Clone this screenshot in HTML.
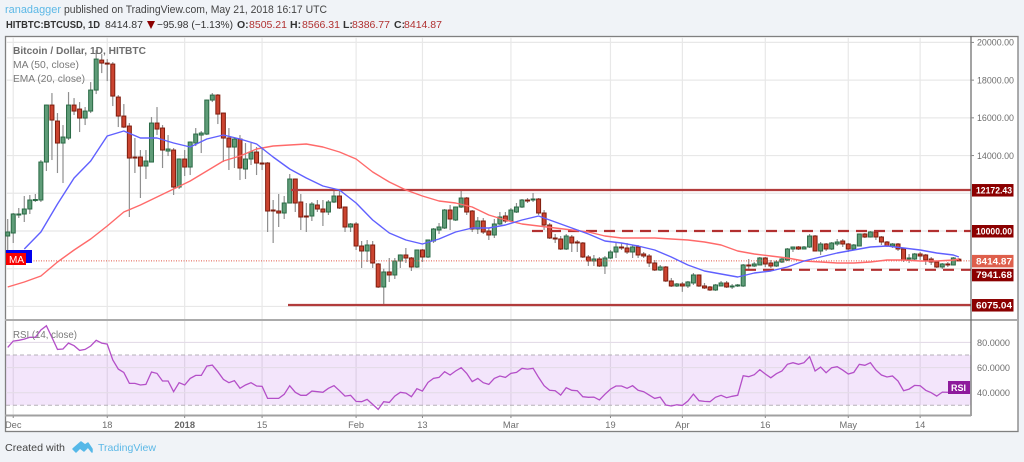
<!DOCTYPE html>
<html lang="en">
<head>
<meta charset="utf-8">
<title>BTCUSD chart</title>
<style>
html,body{margin:0;padding:0;background:#f0f3f7;}
svg{display:block;font-family:"Liberation Sans",sans-serif;filter:blur(0.3px);}
</style>
</head>
<body>
<svg id="chart" xmlns="http://www.w3.org/2000/svg" width="1024" height="462" viewBox="0 0 1024 462">
  <rect x="0" y="0" width="1024" height="462" fill="#f0f3f7"/>
  <text x="5" y="13" font-size="11" fill="#5cb8e6" textLength="56" lengthAdjust="spacingAndGlyphs">ranadagger</text>
  <text x="64" y="13" font-size="11" fill="#444" textLength="263" lengthAdjust="spacingAndGlyphs">published on TradingView.com, May 21, 2018 16:17 UTC</text>
  <text x="6" y="28" font-size="10.5" font-weight="bold" fill="#333" textLength="94" lengthAdjust="spacingAndGlyphs">HITBTC:BTCUSD, 1D</text>
  <text x="105" y="28" font-size="10.5" fill="#333" textLength="38" lengthAdjust="spacingAndGlyphs">8414.87</text>
  <polygon points="147,21 155,21 151,29" fill="#8b0000"/>
  <text x="157" y="28" font-size="10.5" fill="#333" textLength="76" lengthAdjust="spacingAndGlyphs">−95.98 (−1.13%)</text>
  <text x="237" y="28" font-size="10.5" font-weight="bold" fill="#333">O:</text>
  <text x="249" y="28" font-size="10.5" fill="#b03030" textLength="38" lengthAdjust="spacingAndGlyphs">8505.21</text>
  <text x="290" y="28" font-size="10.5" font-weight="bold" fill="#333">H:</text>
  <text x="302" y="28" font-size="10.5" fill="#b03030" textLength="38" lengthAdjust="spacingAndGlyphs">8566.31</text>
  <text x="343" y="28" font-size="10.5" font-weight="bold" fill="#333">L:</text>
  <text x="352" y="28" font-size="10.5" fill="#b03030" textLength="38" lengthAdjust="spacingAndGlyphs">8386.77</text>
  <text x="394" y="28" font-size="10.5" font-weight="bold" fill="#333">C:</text>
  <text x="404" y="28" font-size="10.5" fill="#b03030" textLength="38" lengthAdjust="spacingAndGlyphs">8414.87</text>

  <rect x="5.5" y="36.5" width="1012.5" height="395" fill="#ffffff" stroke="#808080" stroke-width="1.3"/>
  <g id="grid"></g>
  <g id="rsi-pane"></g>
  <g id="candles"></g>
  <g id="levels"></g>
  <g id="mas"></g>
  <rect x="5" y="319" width="1013" height="2" fill="#ababab"/>
  <line x1="971" y1="36" x2="971" y2="416" stroke="#666" stroke-width="1.2"/>
  <line x1="5" y1="415.5" x2="971" y2="415.5" stroke="#a0a0a0" stroke-width="2"/>
  <g id="axes"></g>

  <rect x="6" y="250" width="26" height="13" fill="#0000ee"/>
  <rect x="6" y="253" width="20" height="12" fill="#f70000"/>
  <text x="9" y="263" font-size="10" fill="#fff">MA</text>

  <text x="13" y="54" font-size="10" font-weight="bold" fill="#6e6e6e" textLength="133" lengthAdjust="spacingAndGlyphs">Bitcoin / Dollar, 1D, HITBTC</text>
  <text x="13" y="68" font-size="10" fill="#7a7a7a" textLength="66" lengthAdjust="spacingAndGlyphs">MA (50, close)</text>
  <text x="13" y="82" font-size="10" fill="#7a7a7a" textLength="72" lengthAdjust="spacingAndGlyphs">EMA (20, close)</text>
  <text x="13" y="338" font-size="10" fill="#7a7a7a" textLength="64" lengthAdjust="spacingAndGlyphs">RSI (14, close)</text>

  <rect x="948" y="381" width="22" height="13" fill="#8e1a9c"/>
  <text x="951" y="391" font-size="9" font-weight="bold" fill="#fff">RSI</text>

  <text x="5" y="451" font-size="10.5" fill="#444" textLength="60" lengthAdjust="spacingAndGlyphs">Created with</text>
  <g>
    <path d="M73 449 L81 442 L85 445 L88 443 L92 449 L92 452 L88 447 L84 451 L80 448 L76 452 Z" fill="#55b8e8" stroke="#55b8e8" stroke-width="1.5" stroke-linejoin="round"/>
    <text x="98" y="451" font-size="10.5" fill="#5cb8e6" textLength="58" lengthAdjust="spacingAndGlyphs">TradingView</text>
  </g>
</svg>
<script>
const opens=[9735,9894,10848,10901,11166,11615,11643,13657,16678,15830,14664,14929,16678,16466,15989,16360,17473,19063,18904,18851,17102,16095,15565,13922,13922,13445,13657,15724,15459,14240,14293,12332,13816,13392,14664,15088,15141,16943,17208,16254,14929,14452,14876,13286,13816,14187,13604,13604,11113,11060,10954,11484,12756,11537,10795,10795,11378,11166,11007,11537,11855,11272,10212,10371,9205,8940,9258,8251,7032,7827,7668,8410,8728,8569,8092,8993,8622,9470,10053,10159,11113,10583,11272,11749,11060,10106,10530,10000,9788,10371,10795,10530,11007,11272,11643,11643,11696,10954,10318,9629,9576,9046,9682,9417,9364,8622,8410,8516,8145,8569,8887,9152,9099,8887,9152,8781,8675,8304,7933,8092,7350,7085,7191,7085,7244,7668,7085,7032,6873,7085,7244,7032,7085,7085,8198,8145,8198,8569,8304,8145,8357,8463,9046,9152,9046,9152,9735,8940,9311,9046,9311,9470,9311,9046,9205,9841,9682,9947,9682,9417,9205,9311,9046,8516,8516,8781,8728,8516,8357,8092,8251,8198,8505.21];
const highs=[10636,10954,11219,11855,11908,11961,13763,16700,17314,16254,15618,17367,17049,16837,16572,17897,19593,19381,19116,18957,17208,16731,15724,14929,14293,14293,16042,16572,15618,15088,14399,13850,14293,14750,15459,15300,16970,17314,17261,16280,15459,14982,15088,14664,14664,14452,14452,13657,11643,11961,11855,13021,12780,11961,11484,11537,11643,11643,11643,12173,12173,11300,10424,10477,9470,9523,9470,8304,8000,8569,8569,8760,9099,8622,9020,9046,9550,10159,10424,11166,11378,11300,12173,11802,11113,10742,10689,10159,10636,11007,11007,11219,11484,11696,11749,12014,11749,11113,10424,9841,9735,9841,9788,9523,9417,8728,8728,8622,8675,8993,9364,9364,9364,9258,9258,8887,8781,8463,8198,8145,7509,7244,7297,7350,7774,7700,7244,7085,7191,7350,7350,7191,7191,8251,8516,8357,8622,8622,8463,8463,8622,9099,9180,9205,9205,9841,9788,9417,9364,9417,9576,9576,9364,9311,9870,9894,10000,10000,9735,9470,9364,9364,9099,8781,8834,8887,8781,8622,8410,8304,8357,8622,8566.31];
const lows=[8993,9364,10689,10477,10901,11537,11537,13180,13763,13074,12544,14823,16148,15247,15618,16254,17261,18374,17950,16625,15512,15459,10742,13074,11749,12756,13650,15088,13339,13975,11908,12226,12915,12968,14505,14134,15088,16837,15671,13657,13233,13339,12703,12756,13498,12968,13233,9947,9364,10212,10636,11460,11007,10053,9947,10530,11007,10265,10848,11484,11166,9947,9947,8993,8039,8357,8039,6979,6131,7297,7456,8039,8304,7880,8039,8357,8569,9364,9841,10106,10053,10530,11219,10848,9947,9841,9841,9523,9629,10318,10424,10477,10954,11219,11484,11537,10848,10053,9576,9364,8993,8993,8887,8887,8569,8145,8145,8092,7721,8516,8569,8993,8781,8569,8569,8569,8092,7880,7880,7297,7032,7032,6773,6979,7138,7032,6926,6820,6820,7060,6979,6926,7032,7032,7986,8092,8170,8092,8039,8092,8304,8410,8887,8993,9020,9099,8915,8728,8940,8993,9205,9152,8887,9020,9180,9629,9650,9523,9258,9152,9099,8940,8357,8304,8410,8463,8198,8198,8039,7986,8092,8170,8386.77];
const closes=[9947,10901,10901,11166,11643,11670,13657,16678,15883,14664,14982,16678,16360,15989,16360,17473,19116,18904,18851,17155,16095,15512,13869,13869,13445,13710,15724,15406,14293,14346,12332,13816,13392,14717,15141,15194,16943,17208,16201,14929,14452,14876,13339,13816,14187,13604,13551,11060,11060,10954,11484,12756,11484,10742,10742,11431,11166,11007,11537,11855,11219,10212,10371,9205,8940,9258,8304,7032,7827,7668,8410,8728,8569,8092,8993,8622,9523,10106,10212,11113,10636,11272,11749,11007,10106,10530,9947,9788,10371,10742,10530,11113,11272,11643,11590,11696,10954,10318,9629,9576,9046,9735,9364,9364,8622,8410,8516,8145,8569,8887,9152,9099,8887,9152,8728,8675,8304,7933,8092,7350,7085,7191,7085,7297,7668,7085,6979,6873,7138,7244,7032,7085,7138,8198,8145,8251,8569,8251,8145,8357,8516,9046,9152,9046,9152,9735,8940,9311,9046,9364,9417,9311,9046,9258,9841,9682,9947,9682,9417,9205,9311,9046,8463,8569,8781,8675,8463,8357,8092,8251,8198,8569,8414.87];
const maDays=[0,3,6,9,12,15,18,21,24,27,30,33,36,39,42,45,48,51,54,57,60,63,66,69,72,75,78,81,84,87,90,93,96,99,102,105,108,111,114,117,120,123,126,129,132,135,138,141,144,147,150,153,156,159,162,165,168,171,172];
const maValues=[7032,7297,7615,8357,8993,9576,10265,11007,11378,11802,12226,12650,13180,13710,13975,14346,14505,14558,14611,14452,14187,13816,13127,12597,12173,11855,11590,11484,11272,10848,10583,10371,10265,10159,10053,9947,9735,9629,9629,9629,9576,9523,9417,9258,8940,8781,8675,8569,8410,8357,8304,8304,8357,8463,8463,8410,8410,8463,8516];
const emaDays=[3,6,9,12,15,18,21,24,27,30,33,36,39,42,45,48,51,54,57,60,63,66,69,72,75,78,81,84,87,90,93,96,99,102,105,108,111,114,117,120,123,126,129,132,135,138,141,144,147,150,153,156,159,162,165,168,171,172];
const emaValues=[9046,9947,11431,12809,13710,15035,15300,14929,14929,14664,14452,14876,15088,14876,14611,13922,13286,12809,12385,12173,11484,10583,9894,9523,9311,9576,9947,10159,10159,10318,10583,10795,10477,10159,9841,9470,9364,9205,8993,8622,8198,7880,7721,7562,7774,7880,8092,8410,8622,8834,8993,9152,9205,9099,8993,8834,8728,8622];
const rsiValues=[76.1,81.1,81.7,82.7,84.1,84.1,89.9,93.3,84.1,74.5,74.8,79.5,77.4,73.7,74.5,77.2,81.7,79.5,78.7,66.0,58.8,56.2,47.4,47.4,46.1,46.6,56.5,55.4,49.3,49.3,40.8,48.0,46.1,51.4,53.8,53.8,61.2,62.0,56.7,50.6,48.0,49.6,43.5,46.1,48.0,45.3,45.0,35.5,35.5,35.5,38.7,45.6,40.3,37.9,37.9,41.3,40.8,40.3,43.5,45.6,41.6,37.3,37.9,33.1,32.8,34.7,30.7,26.7,32.8,32.3,37.3,40.3,39.7,36.8,43.2,41.3,48.2,51.4,52.2,56.7,54.1,57.3,59.9,55.4,48.8,51.4,48.0,46.6,51.4,53.3,52.2,55.4,56.2,59.4,58.8,59.4,52.2,45.6,41.9,41.6,38.1,44.0,41.9,41.6,36.8,36.3,36.5,34.2,38.7,42.9,45.3,45.3,43.5,45.6,41.9,40.8,38.1,35.5,36.5,30.2,29.4,30.4,29.9,33.4,38.9,33.6,33.1,32.8,36.3,37.9,36.0,37.1,37.9,53.5,52.7,54.3,58.3,54.9,51.9,55.1,57.3,62.6,63.9,62.6,63.9,68.7,57.3,60.4,55.9,59.9,60.7,58.0,54.9,56.2,62.6,61.8,63.9,58.0,54.1,52.5,53.3,49.3,41.6,42.9,45.8,45.6,41.9,40.0,37.3,40.5,40.3,42.1,42.9];
const priceTicks=[20000,18000,16000,14000,12000,10000,8000,6000];
const priceAxisLabels=["20000.00","18000.00","16000.00","14000.00"];
const priceAxisLabelValues=[20000,18000,16000,14000];
const levelSolid=[12172.43,6075.04];
const levelDashed=[10000,7941.68];
const rsiTicks=[80,60,40];
const rsiTickLabels=["80.0000","60.0000","40.0000"];
const timeTickDays=[1,18,32,46,63,75,91,109,122,137,152,165];
const timeTickLabels=["Dec","18","2018","15","Feb","13","Mar","19","Apr","16","May","14"];

const NS="http://www.w3.org/2000/svg";
function xDay(d){return 7.7+5.53*d;}
function yPrice(p){return 231-(p-10000)*0.01886;}
function yRsi(v){return 392.7-(v-40)*1.256;}
function mk(parent,tag,attrs){
  const el=document.createElementNS(NS,tag);
  for(const k in attrs){el.setAttribute(k,attrs[k]);}
  parent.appendChild(el);
  return el;
}
const grid=document.getElementById('grid');
const pane=document.getElementById('rsi-pane');
const candles=document.getElementById('candles');
const levels=document.getElementById('levels');
const mas=document.getElementById('mas');
const axes=document.getElementById('axes');

priceTicks.forEach(function(p){
  const l=mk(grid,'line',{x1:6,x2:971,y1:yPrice(p),y2:yPrice(p),stroke:'#e8e8e8','stroke-width':1.2});
  
  
});
timeTickDays.forEach(function(d){
  const l=mk(grid,'line',{x1:xDay(d),x2:xDay(d),y1:37,y2:319,stroke:'#e8e8e8','stroke-width':1.2});
  
  
  const l2=mk(grid,'line',{x1:xDay(d),x2:xDay(d),y1:321,y2:415,stroke:'#e8e8e8','stroke-width':1.2});
  
  
});

const band=mk(pane,'rect',{x:6,y:yRsi(70),width:965,height:yRsi(30)-yRsi(70),fill:'#9c27e0','fill-opacity':0.12});


rsiTicks.forEach(function(v){
  const l=mk(pane,'line',{x1:6,x2:971,y1:yRsi(v),y2:yRsi(v),stroke:'#e4dce8','stroke-width':1.2});
  
  
});
[70,30].forEach(function(v){
  const l=mk(pane,'line',{x1:6,x2:971,y1:yRsi(v),y2:yRsi(v),stroke:'#b5b0b8','stroke-width':1,'stroke-dasharray':'4 3'});
  
  
});
const rsiLine=mk(pane,'polyline',{points:rsiValues.map(function(v,i){return xDay(i).toFixed(1)+','+yRsi(v).toFixed(1);}).join(' '),fill:'none',stroke:'#b44fc8','stroke-width':1.3});



opens.forEach(function(o,i){
  const c=closes[i],up=c>=o,x=xDay(i);
  const top=yPrice(Math.max(o,c)),bot=yPrice(Math.min(o,c));
  const w=mk(candles,'line',{x1:x,x2:x,y1:yPrice(highs[i]),y2:yPrice(lows[i]),stroke:'#8f8f8f','stroke-width':1.2});
  
  
  const b=mk(candles,'rect',{x:x-2,y:top,width:4,height:Math.max(bot-top,1),fill:up?'#5f9c78':'#cb4430',stroke:up?'#2a6a45':'#7f1d0e','stroke-width':1});
  
  
});

levelSolid.forEach(function(p){
  const l=mk(levels,'line',{x1:p>10000?291:288,x2:971,y1:yPrice(p),y2:yPrice(p),stroke:'#b23c3c','stroke-width':2.2});
  
  
});
levelDashed.forEach(function(p){
  const l=mk(levels,'line',{x1:p>=10000?532:745,x2:971,y1:yPrice(p),y2:yPrice(p),stroke:'#b23030','stroke-width':2.2,'stroke-dasharray':'11 7'});
  
  
});
const lastLine=mk(levels,'line',{x1:6,x2:971,y1:yPrice(closes[closes.length-1]),y2:yPrice(closes[closes.length-1]),stroke:'#e05545','stroke-width':1,'stroke-dasharray':'1 1.5'});



const maLine=mk(mas,'polyline',{points:maValues.map(function(v,i){return xDay(maDays[i]).toFixed(1)+','+yPrice(v).toFixed(1);}).join(' '),fill:'none',stroke:'#ff6a6a','stroke-width':1.4,'stroke-linejoin':'round'});


const emaLine=mk(mas,'polyline',{points:emaValues.map(function(v,i){return xDay(emaDays[i]).toFixed(1)+','+yPrice(v).toFixed(1);}).join(' '),fill:'none',stroke:'#6060ff','stroke-width':1.4,'stroke-linejoin':'round'});



function txt(parent,x,y,s,attrs){
  const t=mk(parent,'text',Object.assign({x:x,y:y,'font-size':9.3},attrs));
  t.textContent=s;
  return t;
}
priceAxisLabels.forEach(function(s,i){
  const y=yPrice(priceAxisLabelValues[i]);
  const tk=mk(axes,'line',{x1:971,x2:974,y1:y,y2:y,stroke:'#888','stroke-width':1});
  
  
  const t=txt(axes,977,y+3.3,s,{fill:'#6e6e6e',textLength:37,lengthAdjust:'spacingAndGlyphs'});
  
  
});
function tag(p,s,fill){
  const y=yPrice(p);
  const r=mk(axes,'rect',{x:972,y:y-6,width:41.5,height:12.5,fill:fill});
  
  
  const t=txt(axes,976,y+3.4,s,{fill:'#fff','font-weight':'bold',textLength:36,lengthAdjust:'spacingAndGlyphs'});
  
  
}
tag(12172.43,'12172.43','#8b0000');
tag(10000,'10000.00','#8b0000');
tag(closes[closes.length-1],'8414.87','#de5f4b');
const tag7941=yPrice(7941.68)+5;
const r7941=mk(axes,'rect',{x:972,y:tag7941-6,width:41.5,height:12.5,fill:'#8b0000'});


const t7941=txt(axes,976,tag7941+3.4,'7941.68',{fill:'#fff','font-weight':'bold',textLength:36,lengthAdjust:'spacingAndGlyphs'});


tag(6075.04,'6075.04','#8b0000');

rsiTicks.forEach(function(v,i){
  const y=yRsi(v);
  const t=txt(axes,977,y+3.3,rsiTickLabels[i],{fill:'#6e6e6e',textLength:33,lengthAdjust:'spacingAndGlyphs'});
  
  
});
timeTickDays.forEach(function(d,i){
  const x=xDay(d);
  const tk=mk(axes,'line',{x1:x,x2:x,y1:416,y2:418,stroke:'#888','stroke-width':1});
  
  
  const isYear=timeTickLabels[i]==='2018';
  const t=txt(axes,i===0?Math.max(x,13):x,428,timeTickLabels[i],{fill:isYear?'#666':'#6e6e6e','text-anchor':'middle','font-weight':isYear?'bold':'normal'});
  
  
});
</script>
</body>
</html>
